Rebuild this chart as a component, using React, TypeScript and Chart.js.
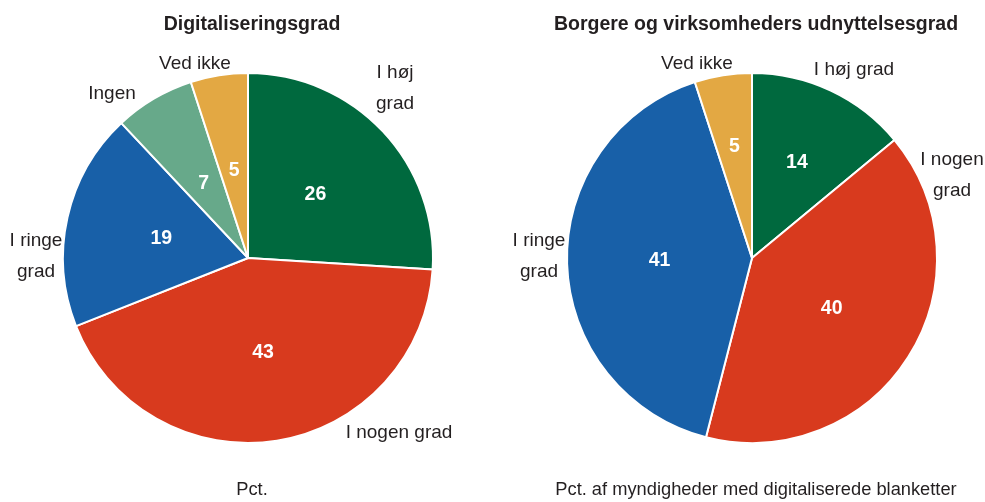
import React, { useEffect, useRef } from "react";
import { Chart, registerables } from "chart.js";

Chart.register(...registerables);

// ---- Data ----
const leftTitle = "Digitaliseringsgrad";
const leftFooter = "Pct.";
const leftCategories = ["I høj grad", "I nogen grad", "I ringe grad", "Ingen", "Ved ikke"];
const leftValues = [26, 43, 19, 7, 5];

const rightTitle = "Borgere og virksomheders udnyttelsesgrad";
const rightFooter = "Pct. af myndigheder med digitaliserede blanketter";
const rightCategories = ["I høj grad", "I nogen grad", "I ringe grad", "Ved ikke"];
const rightValues = [14, 40, 41, 5];

// ---- Styles / layout ----
const GREEN = "#00693E";
const RED = "#D83A1E";
const BLUE = "#1860A8";
const LIGHTGREEN = "#67A98A";
const ORANGE = "#E3A843";
const leftColors = [GREEN, RED, BLUE, LIGHTGREEN, ORANGE];
const rightColors = [GREEN, RED, BLUE, ORANGE];
const TEXT = "#231F20";
const FONT = "'Liberation Sans', Arial, sans-serif";

// label lines and offsets (relative to pie centre) for outside labels
const leftLabelLines = [["I høj", "grad"], ["I nogen grad"], ["I ringe", "grad"], ["Ingen"], ["Ved ikke"]];
const leftLabelOffsets = [[147, -170], [151, 175], [-212, -2], [-136, -164], [-53, -194]];
const leftValueRadius = [0.5, 0.52, 0.48, 0.47, 0.48];

const rightLabelLines = [["I høj grad"], ["I nogen", "grad"], ["I ringe", "grad"], ["Ved ikke"]];
const rightLabelOffsets = [[102, -188], [200, -83], [-213, -2], [-55, -194]];
const rightValueRadius = [0.57, 0.51, 0.5, 0.61];

type PieCfg = {
  title: string;
  footer: string;
  categories: string[];
  values: number[];
  colors: string[];
  lines: string[][];
  offsets: number[][];
  valueRadius: number[];
  padLeft: number;
};

const labelPlugin = {
  id: "pieText",
  afterDatasetsDraw(chart: any, _args: any, opts: any) {
    const cfg: PieCfg = opts.cfg;
    const ctx = chart.ctx;
    const meta = chart.getDatasetMeta(0);
    const first = meta.data[0];
    const cx = first.x;
    const cy = first.y;
    ctx.save();
    ctx.textAlign = "center";
    ctx.textBaseline = "middle";
    // values inside
    ctx.fillStyle = "#ffffff";
    ctx.font = `bold 19.5px ${FONT}`;
    meta.data.forEach((arc: any, i: number) => {
      const mid = (arc.startAngle + arc.endAngle) / 2;
      const r = arc.outerRadius * cfg.valueRadius[i];
      ctx.fillText(String(cfg.values[i]), cx + Math.cos(mid) * r, cy + Math.sin(mid) * r);
    });
    // outside labels
    ctx.fillStyle = TEXT;
    ctx.font = `19px ${FONT}`;
    cfg.lines.forEach((lines, i) => {
      const [dx, dy] = cfg.offsets[i];
      const lh = 31;
      const y0 = cy + dy - ((lines.length - 1) * lh) / 2;
      lines.forEach((t, j) => ctx.fillText(t, cx + dx, y0 + j * lh));
    });
    // title
    ctx.font = `bold 19.5px ${FONT}`;
    ctx.fillText(cfg.title, cx + 4, 25);
    // footer
    ctx.font = `18.3px ${FONT}`;
    ctx.fillText(cfg.footer, cx + 4, 490);
    ctx.restore();
  },
};

function PieChart({ cfg, left, width }: { cfg: PieCfg; left: number; width: number }) {
  const ref = useRef<HTMLCanvasElement>(null);
  useEffect(() => {
    if (!ref.current) return;
    const chart = new Chart(ref.current, {
      type: "pie",
      data: {
        labels: cfg.categories,
        datasets: [
          {
            data: cfg.values,
            backgroundColor: cfg.colors,
            borderColor: "#ffffff",
            borderWidth: 2,
            radius: 185,
          } as any,
        ],
      },
      options: {
        animation: false,
        responsive: false,
        maintainAspectRatio: false,
        layout: { padding: { left: cfg.padLeft, top: 14, right: 0, bottom: 0 } },
        plugins: {
          legend: { display: false },
          tooltip: { enabled: false },
          title: { display: false },
          pieText: { cfg },
        } as any,
      },
      plugins: [labelPlugin],
    });
    return () => chart.destroy();
  }, [cfg]);
  return (
    <canvas
      ref={ref}
      width={width}
      height={502}
      style={{ position: "absolute", left, top: 0, width, height: 502 }}
    />
  );
}

const leftCfg: PieCfg = {
  title: leftTitle,
  footer: leftFooter,
  categories: leftCategories,
  values: leftValues,
  colors: leftColors,
  lines: leftLabelLines,
  offsets: leftLabelOffsets,
  valueRadius: leftValueRadius,
  padLeft: 4,
};

const rightCfg: PieCfg = {
  title: rightTitle,
  footer: rightFooter,
  categories: rightCategories,
  values: rightValues,
  colors: rightColors,
  lines: rightLabelLines,
  offsets: rightLabelOffsets,
  valueRadius: rightValueRadius,
  padLeft: 27,
};

export default function App() {
  return (
    <div style={{ position: "fixed", left: 0, top: 0, width: 985, height: 502, background: "#fff" }}>
      <PieChart cfg={leftCfg} left={0} width={492} />
      <PieChart cfg={rightCfg} left={492} width={493} />
    </div>
  );
}
